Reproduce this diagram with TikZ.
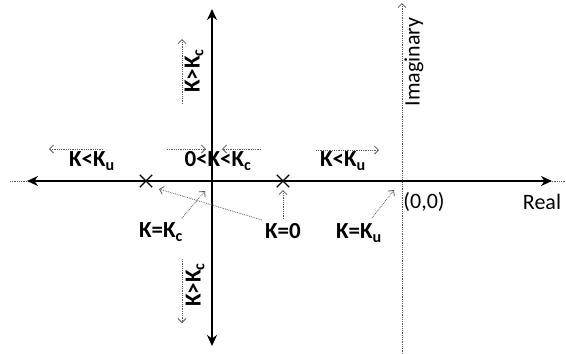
\documentclass[tikz,border=0pt]{standalone}
\usepackage{fontspec}
\setmainfont{Carlito}
\usetikzlibrary{arrows.meta,shapes.misc}
\begin{document}
\begin{tikzpicture}[x=1pt,y=-1pt,
  axis/.style={line width=2.8pt,{Stealth[length=11pt,width=10pt]}-{Stealth[length=11pt,width=10pt]}},
  guide/.style={gray!70!black,densely dotted,line width=0.8pt},
  thinarrow/.style={gray!70!black,densely dotted,line width=0.8pt,-{Straight Barb[length=4pt,width=8pt]}},
  lbl/.style={font=\bfseries\fontsize{23}{26}\selectfont,inner sep=0pt},
  plain/.style={font=\fontsize{22}{26}\selectfont,inner sep=0pt},
  xmark/.style={cross out,draw,line width=1.3pt,minimum size=11pt,inner sep=0pt}]
\useasboundingbox (0,0) rectangle (566,354);
% thin axes
\coordinate (rl) at (10,181);
\coordinate (rr) at (566,181);
\draw[guide] (rl) -- (rr);
\coordinate (ib) at (402,354);
\coordinate (it) at (402,3);
\draw[thinarrow] (ib) -- (it);
% thick axes
\coordinate (hl) at (27,181);
\coordinate (hr) at (552,181);
\draw[axis] (hl) -- (hr);
\coordinate (vt) at (212,9);
\coordinate (vb) at (212,346);
\draw[axis] (vb) -- (vt);
% crosses
\node[xmark] (x1) at (146,181) {};
\node[xmark] (x2) at (283,181) {};
% labels
\node[lbl] (ku1) at (92,161) {K<K\textsubscript{u}};
\node[lbl] (zk) at (218,161) {0<K<K\textsubscript{c}};
\node[lbl] (ku2) at (343,161) {K<K\textsubscript{u}};
\node[lbl] (kc) at (161,232) {K=K\textsubscript{c}};
\node[lbl] (k0) at (283,231) {K=0};
\node[lbl] (kuu) at (359,233) {K=K\textsubscript{u}};
\node[lbl,rotate=90] (kct) at (194,71) {K>K\textsubscript{c}};
\node[lbl,rotate=90] (kcb) at (195,285) {K>K\textsubscript{c}};
\node[plain] (orig) at (424,202) {(0,0)};
\node[plain] (real) at (542,202) {Real};
\node[plain,rotate=90] (imag) at (414,62) {Imaginary};
% direction arrows
\coordinate (a1s) at (103,149); \coordinate (a1e) at (49,149);
\draw[thinarrow] (a1s) -- (a1e);
\coordinate (a2s) at (167,149); \coordinate (a2e) at (206,149);
\draw[thinarrow] (a2s) -- (a2e);
\coordinate (a3s) at (261,149); \coordinate (a3e) at (222,149);
\draw[thinarrow] (a3s) -- (a3e);
\coordinate (a4s) at (316,150); \coordinate (a4e) at (379,150);
\draw[thinarrow] (a4s) -- (a4e);
\coordinate (a5s) at (182,104); \coordinate (a5e) at (182,39);
\draw[thinarrow] (a5s) -- (a5e);
\coordinate (a6s) at (182,259); \coordinate (a6e) at (182,323);
\draw[thinarrow] (a6s) -- (a6e);
% pointer arrows
\coordinate (q1) at (283,219); \coordinate (p1) at (283,190);
\draw[thinarrow] (q1) -- (p1);
\coordinate (q2) at (262,220); \coordinate (p2) at (159,189);
\draw[thinarrow] (q2) -- (p2);
\coordinate (q3) at (182,218); \coordinate (p3) at (205,191);
\draw[thinarrow] (q3) -- (p3);
\coordinate (q4) at (372,218); \coordinate (p4) at (394,190);
\draw[thinarrow] (q4) -- (p4);
\end{tikzpicture}
\end{document}
